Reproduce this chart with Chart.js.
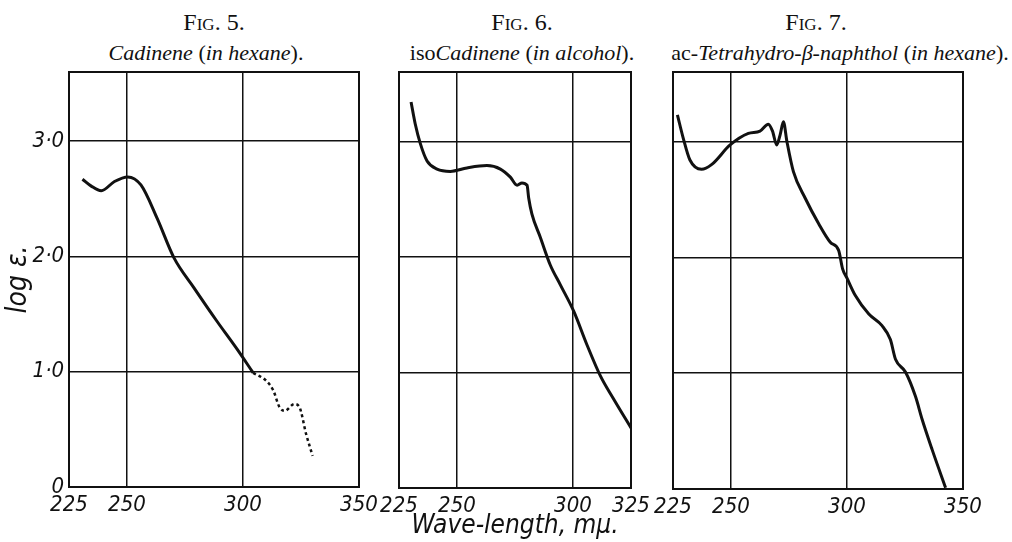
<!DOCTYPE html>
<html>
<head>
<meta charset="utf-8">
<script src="https://cdn.jsdelivr.net/npm/chart.js@4/dist/chart.umd.min.js"></script>
<style>
  body { margin: 0; background: #fff; }
  #wrap { position: relative; width: 1012px; height: 542px; overflow: hidden; }
  canvas { position: absolute; left: 0; top: 0; }
  .cap { position: absolute; transform: translate(-50%, -50%); white-space: nowrap;
         font-family: 'Liberation Serif', 'DejaVu Serif', serif; color: #111; }
  .fig { font-size: 24px; font-variant: small-caps; }
  .sub { font-size: 22px; }
  .sub i { font-style: italic; }
</style>
</head>
<body>
<div id="wrap">
  <div class="cap fig" style="left:214px; top:22px">Fig. 5.</div>
  <div class="cap sub" style="left:206px; top:53px"><i>Cadinene</i> (<i>in hexane</i>).</div>
  <div class="cap fig" style="left:522px; top:22px">Fig. 6.</div>
  <div class="cap sub" style="left:522px; top:53px">iso<i>Cadinene</i> (<i>in alcohol</i>).</div>
  <div class="cap fig" style="left:816px; top:22px">Fig. 7.</div>
  <div class="cap sub" style="left:840px; top:53px">ac-<i>Tetrahydro-β-naphthol</i> (<i>in hexane</i>).</div>
  <canvas id="fig5" width="1012" height="542"></canvas>
  <canvas id="fig6" width="1012" height="542"></canvas>
  <canvas id="fig7" width="1012" height="542"></canvas>
</div>
<script>
// Fig. 5 - Cadinene (in hexane)
const fig5Wave = [230.8, 234.6, 238.9, 244.6, 250.3, 256, 263, 270.2, 278.8, 288.7, 297.3, 304.4];
const fig5LogE = [2.67, 2.61, 2.57, 2.65, 2.69, 2.62, 2.33, 1.99, 1.73, 1.44, 1.20, 0.99];
// dotted continuation
const fig5DotWave = [304.4, 310.1, 313, 315.8, 318, 322.2, 324.4, 327.2, 330];
const fig5DotLogE = [0.99, 0.92, 0.84, 0.69, 0.66, 0.72, 0.69, 0.46, 0.27];

// Fig. 6 - isoCadinene (in alcohol)
const fig6Wave = [230.2, 232, 234.2, 237.1, 241.4, 247.1, 254.3, 262.9, 268.7, 273, 275.9, 278, 280.2, 280.9, 282.3, 285.9, 290.2, 294.5, 300.3, 306, 311.8, 317.5, 325];
const fig6LogE = [3.34, 3.15, 2.98, 2.83, 2.76, 2.74, 2.77, 2.79, 2.76, 2.69, 2.62, 2.64, 2.62, 2.51, 2.37, 2.17, 1.93, 1.76, 1.53, 1.24, 0.97, 0.77, 0.52];

// Fig. 7 - ac-Tetrahydro-beta-naphthol (in hexane)
const fig7Wave = [226.9, 229.4, 232.3, 237.3, 241.6, 249.6, 257.5, 262.5, 266.1, 267.9, 269.7, 271.2, 272.6, 274.1, 276.9, 282, 287.8, 292.8, 296.4, 298.1, 300, 303.6, 309.4, 315.1, 318.7, 320.9, 325.2, 329.5, 332.4, 336.7, 342.5];
const fig7LogE = [3.23, 3.03, 2.84, 2.76, 2.80, 2.97, 3.07, 3.09, 3.15, 3.09, 2.97, 3.06, 3.17, 3.00, 2.74, 2.51, 2.29, 2.13, 2.06, 1.90, 1.82, 1.67, 1.51, 1.41, 1.29, 1.12, 1.01, 0.80, 0.60, 0.34, 0.01];

const ticksLong = [225, 250, 300, 350];
const ticksShort = [225, 250, 300, 325];
const logTicks = [0, 1, 2, 3];
const logLabels = ['0', '1·0', '2·0', '3·0'];

const tickFont = "'Liberation Sans Narrow', 'DejaVu Sans Condensed', sans-serif";

const pts = (xs, ys) => xs.map((x, i) => ({ x: x, y: ys[i] }));

// frame round the plot area (top edge is not an axis)
const framePlugin = {
    id: 'frame',
    afterDraw(chart) {
        let a = chart.chartArea;
        let ctx = chart.ctx;
        ctx.save();
        ctx.strokeStyle = '#111';
        ctx.lineWidth = 2;
        ctx.strokeRect(a.left, a.top, a.right - a.left, a.bottom - a.top);
        ctx.restore();
    }
};

function makeChart(id, cfg) {
    let datasets = cfg.lines.map(l => ({
        data: l.data,
        borderColor: '#111',
        borderWidth: l.width || 3,
        borderDash: l.dash || [],
        pointRadius: 0,
        fill: false,
        cubicInterpolationMode: 'monotone'
    }));

    return new Chart(document.getElementById(id), {
        type: 'line',
        data: { datasets },
        plugins: [framePlugin],
        options: {
            responsive: false,
            animation: false,
            events: [],
            layout: { padding: { left: 0, right: 1012 - cfg.right, top: 72, bottom: 0 } },
            plugins: { legend: { display: false }, tooltip: { enabled: false } },
            scales: {
                x: {
                    type: 'linear',
                    min: cfg.xMin,
                    max: cfg.xMax,
                    afterBuildTicks: s => { s.ticks = cfg.xTicks.map(v => ({ value: v })); },
                    afterFit: s => { s.height = 542 - cfg.bottom; },
                    grid: { color: '#111', lineWidth: 1.5, drawTicks: false },
                    border: { color: '#111', width: 2 },
                    ticks: {
                        padding: 5,
                        color: '#111',
                        maxRotation: 0,
                        autoSkip: false,
                        font: { family: tickFont, size: 22, style: 'italic' },
                        callback: v => String(v)
                    },
                    title: {
                        display: !!cfg.xTitle,
                        text: cfg.xTitle || '',
                        color: '#111',
                        padding: { top: 0, bottom: 0 },
                        font: { family: tickFont, size: 26, style: 'italic' }
                    }
                },
                y: {
                    min: 0,
                    max: 3.6,
                    afterBuildTicks: s => { s.ticks = logTicks.map(v => ({ value: v })); },
                    afterFit: s => { s.width = cfg.left; },
                    grid: { color: '#111', lineWidth: 1.5, drawTicks: false },
                    border: { color: '#111', width: 2 },
                    ticks: {
                        display: !!cfg.yLabels,
                        padding: 5,
                        color: '#111',
                        font: { family: tickFont, size: 22, style: 'italic' },
                        callback: v => logLabels[logTicks.indexOf(v)]
                    },
                    title: {
                        display: !!cfg.yTitle,
                        text: cfg.yTitle || '',
                        color: '#111',
                        padding: { top: 2, bottom: 0 },
                        font: { family: tickFont, size: 28, style: 'italic' }
                    }
                }
            }
        }
    });
}

makeChart('fig5', {
    left: 69, right: 359, bottom: 487,
    xMin: 225, xMax: 350, xTicks: ticksLong,
    yLabels: true, yTitle: 'log ε.',
    lines: [
        { data: pts(fig5Wave, fig5LogE) },
        { data: pts(fig5DotWave, fig5DotLogE), width: 2.5, dash: [3, 3] }
    ]
});

makeChart('fig6', {
    left: 399, right: 631, bottom: 488,
    xMin: 225, xMax: 325, xTicks: ticksShort,
    xTitle: 'Wave-length, mμ.',
    lines: [{ data: pts(fig6Wave, fig6LogE) }]
});

makeChart('fig7', {
    left: 673, right: 963, bottom: 489,
    xMin: 225, xMax: 350, xTicks: ticksLong,
    lines: [{ data: pts(fig7Wave, fig7LogE) }]
});
</script>
</body>
</html>
